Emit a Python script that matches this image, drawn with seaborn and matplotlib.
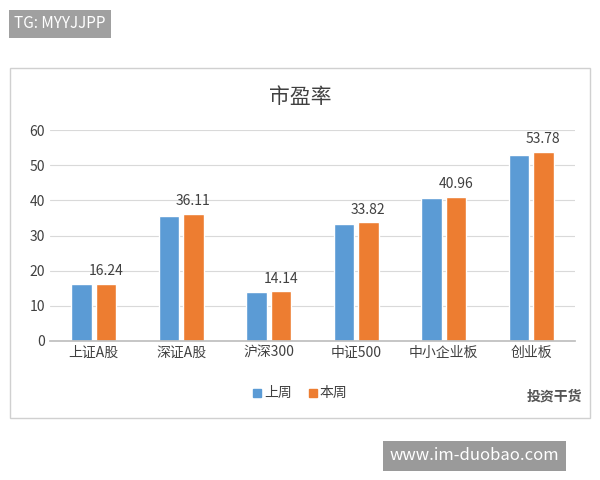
import matplotlib
matplotlib.use("Agg")
import matplotlib.pyplot as plt
import seaborn as sns
import pandas as pd
from matplotlib.patches import Rectangle

categories = ["上证A股", "深证A股", "沪深300", "中证500", "中小企业板", "创业板"]
last_week = [16.2, 35.5, 14.0, 33.4, 40.6, 52.8]
this_week = [16.24, 36.11, 14.14, 33.82, 40.96, 53.78]
series = ["上周", "本周"]

sns.set_theme(style="white")
plt.rcParams['font.family'] = ['Noto Sans CJK SC', 'DejaVu Sans']

df = pd.DataFrame({"cat": categories * 2,
                   "val": last_week + this_week,
                   "s": [series[0]] * 6 + [series[1]] * 6})

fig = plt.figure(figsize=(6, 4.8), dpi=100)
fig.patches.append(Rectangle((10/600, 1-418/480), 580/600, 350/480, transform=fig.transFigure,
                             fill=False, edgecolor="#d0d0d0", lw=1))
ax = fig.add_axes([50/600, 1-341/480, 525/600, 211/480])
sns.barplot(data=df, x="cat", y="val", hue="s", palette=["#5B9BD5", "#ED7D31"],
            saturation=1, width=0.55, gap=0.15, ax=ax, legend=False)
ax.set_ylim(0, 60)
ax.set_yticks(range(0, 61, 10))
ax.yaxis.grid(True, color="#d9d9d9", lw=0.8)
ax.set_axisbelow(True)
for s in ["top", "right", "left"]:
    ax.spines[s].set_visible(False)
ax.spines["bottom"].set_color("#bfbfbf")
ax.set_xlabel(""); ax.set_ylabel("")
ax.tick_params(axis="both", length=0, labelsize=10, colors="#404040")
ax.bar_label(ax.containers[1], labels=[f"{v:.2f}" for v in this_week], padding=4,
             fontsize=10, color="#404040")

fig.text(0.5, 1-97/480, "市盈率", ha="center", va="center", fontsize=15, color="#404040")
for i, (lab, c) in enumerate(zip(series, ["#5B9BD5", "#ED7D31"])):
    x0 = 253 + i * 56
    fig.patches.append(Rectangle((x0/600, 1-397/480), 8/600, 8/480, transform=fig.transFigure,
                                 color=c))
    fig.text((x0 + 11)/600, 1-393/480, lab, va="center", fontsize=10, color="#404040")
fig.text(582/600, 1-397/480, "投资干货", ha="right", va="center", fontsize=10,
         color="#555555", weight="bold")

fig.text(14/600, 1-24/480, "TG: MYYJJPP", va="center", fontsize=11, color="white",
         bbox=dict(boxstyle="square,pad=0.35", fc="#a0a0a0", ec="none"))
fig.text(390/600, 1-456/480, "www.im-duobao.com", va="center", fontsize=12, color="white",
         bbox=dict(boxstyle="square,pad=0.4", fc="#9a9a9a", ec="none"))

fig.savefig("out.png", dpi=100)
